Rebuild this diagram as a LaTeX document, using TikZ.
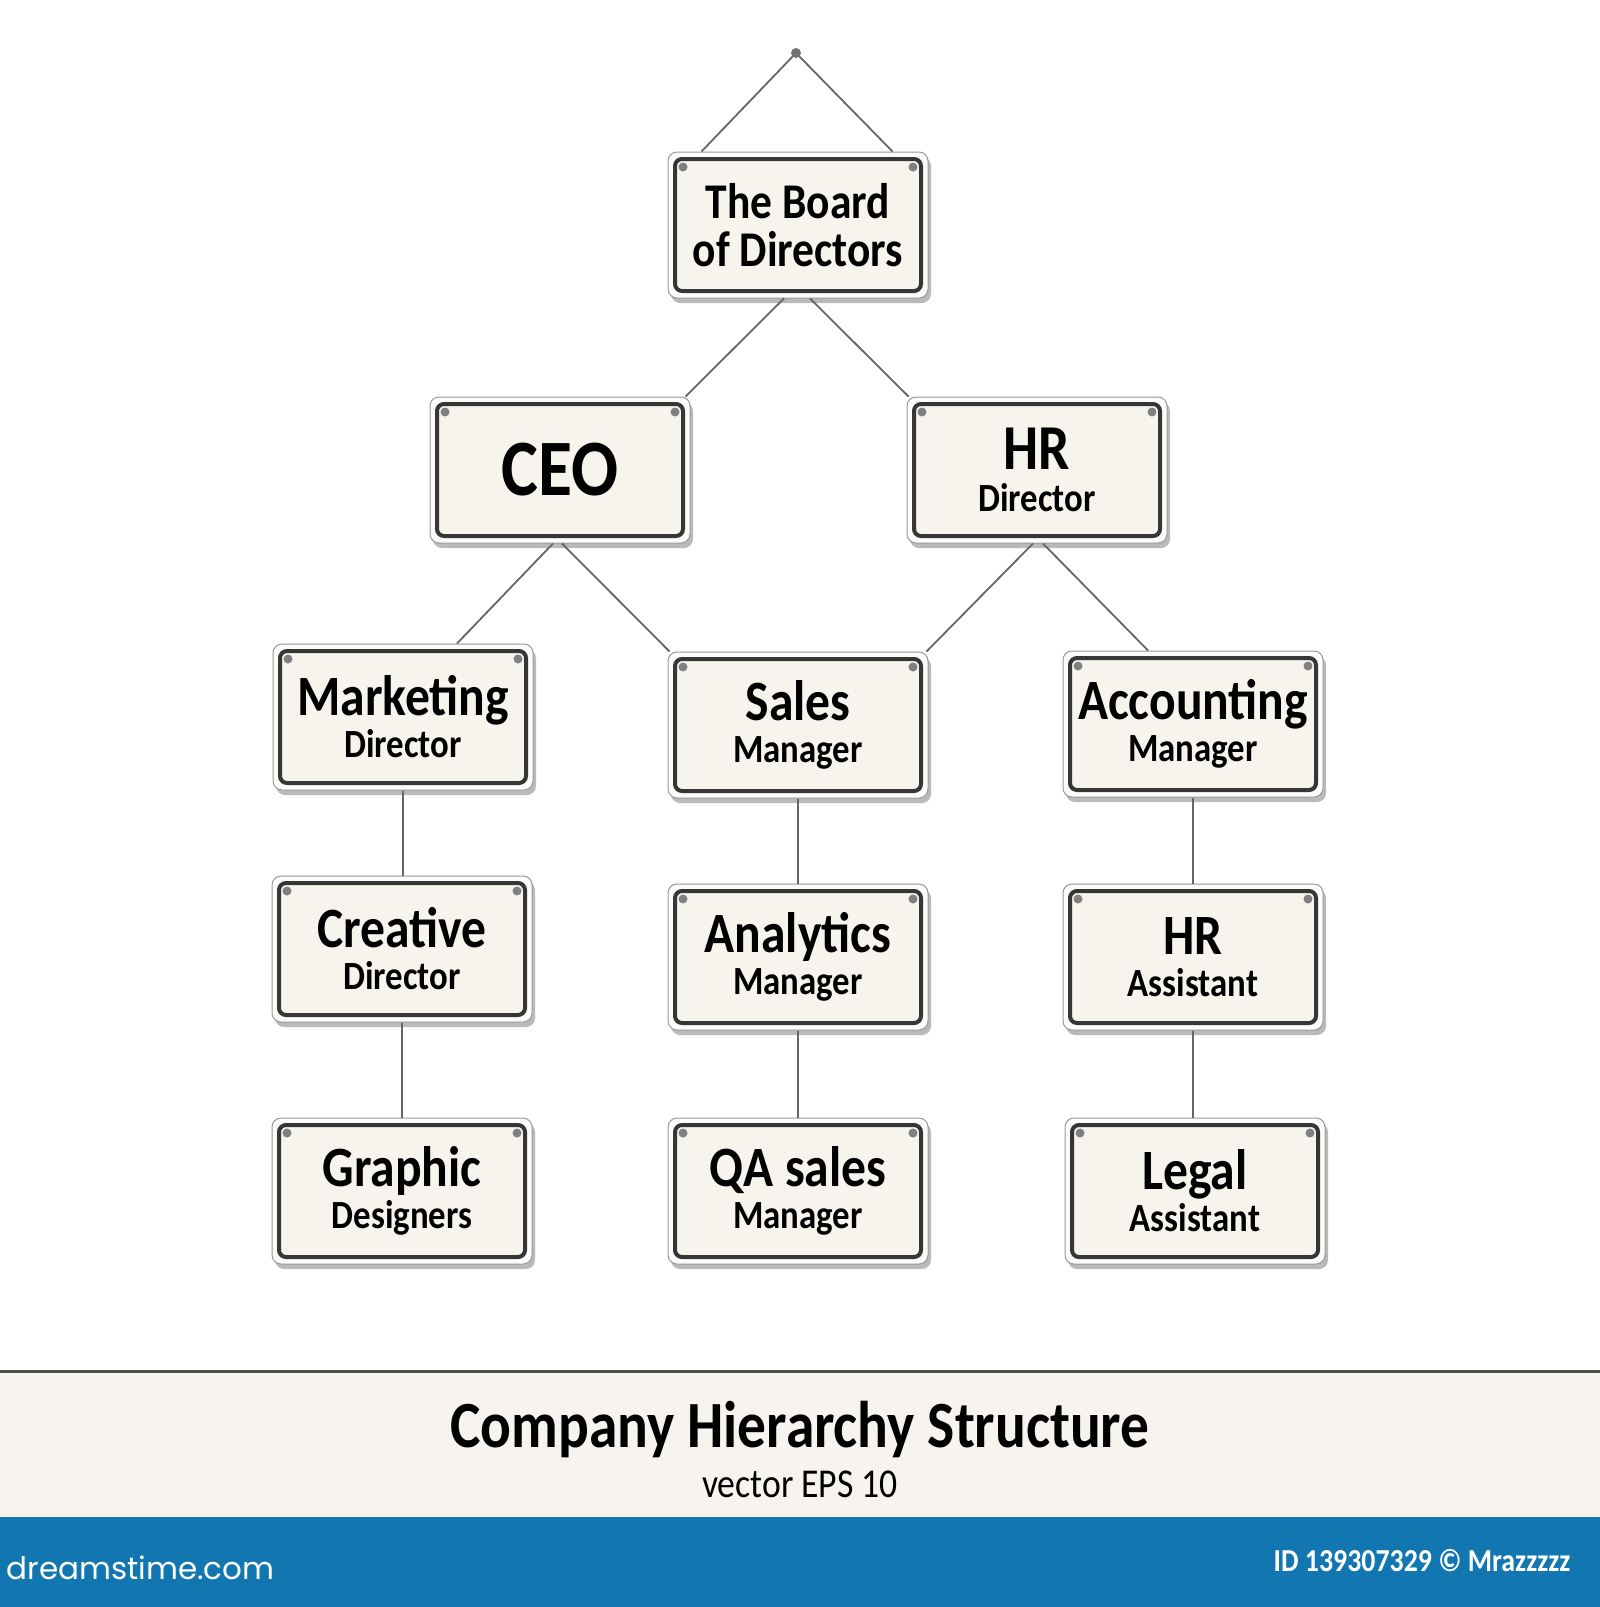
\documentclass[tikz,border=0pt]{standalone}
\usepackage{fontspec}
\setmainfont{Carlito}
\newfontfamily\signfont[FakeStretch=0.87]{Carlito}
\newfontfamily\logofont{Poppins}
\usetikzlibrary{positioning}
\usetikzlibrary{shadows}

\definecolor{plate}{HTML}{FDFCFA}
\definecolor{face}{HTML}{F7F4EE}
\definecolor{rim}{HTML}{363636}
\definecolor{band}{HTML}{F7F4EF}
\definecolor{stockblue}{HTML}{1277B0}

\tikzset{
  sign/.style={rectangle, rounded corners=9pt, draw=black!40, line width=1pt, fill=plate,
    minimum width=260pt, minimum height=146pt, inner sep=0pt, align=center,
    font=\signfont\bfseries\fontsize{40}{42}\selectfont,
    drop shadow={shadow xshift=3pt, shadow yshift=-5pt, opacity=.45, fill=black!60},
    path picture={
      \draw[line width=4pt, draw=rim, fill=face, rounded corners=7pt]
        ([shift={(7pt,-7pt)}]path picture bounding box.north west) rectangle
        ([shift={(-7pt,7pt)}]path picture bounding box.south east);
      \fill[black!50] ([shift={(15pt,-15pt)}]path picture bounding box.north west) circle (4.5pt);
      \fill[black!50] ([shift={(-15pt,-15pt)}]path picture bounding box.north east) circle (4.5pt);
    }},
  wire/.style={draw=black!60, line width=1.8pt},
}
\newcommand{\role}[2]{{\fontsize{57}{42}\selectfont #1}\\#2}

\begin{document}
\begin{tikzpicture}[x=1pt,y=-1pt]
\useasboundingbox (0,0) rectangle (1600,1607);
\fill[white] (0,0) rectangle (1600,1607);

% signs
\node[sign, font=\signfont\bfseries\fontsize{50}{48}\selectfont] (board) at (798,225) {The Board\\of Directors};
\node[sign, font=\signfont\bfseries\fontsize{80}{80}\selectfont] (ceo) at (560,470) {CEO};
\node[sign] (hrd) at (1037,470) {{\fontsize{64}{42}\selectfont HR}\\Director};

\node[sign] (mkt) at (403,717) {\role{Marketing}{Director}};
\node[sign] (sales) at (798,725) {\role{Sales}{Manager}};
\node[sign] (acc) at (1193,724) {\role{Accounting}{Manager}};

\node[sign] (cre) at (402,949) {\role{Creative}{Director}};
\node[sign] (ana) at (798,957) {\role{Analytics}{Manager}};
\node[sign] (hra) at (1193,957) {\role{HR}{Assistant}};

\node[sign] (gra) at (402,1191) {\role{Graphic}{Designers}};
\node[sign] (qa) at (798,1191) {\role{QA sales}{Manager}};
\node[sign] (leg) at (1195,1191) {\role{Legal}{Assistant}};

% hanger and wires
\coordinate (hook) at (796,53);
\draw[wire] ([xshift=34pt]board.north west) -- (hook) -- ([xshift=-36pt]board.north east);
\fill[black!55] (hook) circle (5pt);

\draw[wire] ([xshift=-14pt]board.south) -- ([xshift=-5pt]ceo.north east);
\draw[wire] ([xshift=12pt]board.south) -- ([xshift=2pt]hrd.north west);
\draw[wire] ([xshift=-7pt]ceo.south) -- ([xshift=54pt]mkt.north);
\draw[wire] ([xshift=2pt]ceo.south) -- ([xshift=2pt]sales.north west);
\draw[wire] ([xshift=-4pt]hrd.south) -- ([xshift=-2pt]sales.north east);
\draw[wire] ([xshift=6pt]hrd.south) -- ([xshift=-45pt]acc.north);
\foreach \a/\b in {mkt/cre,cre/gra,sales/ana,ana/qa,acc/hra,hra/leg}
  \draw[wire] (\a.south) -- (\a.south |- \b.north);

% caption band
\fill[band] (0,1373) rectangle (1600,1517);
\draw[black!70, line width=3pt] (0,1371) -- (1600,1371);
\fill[stockblue] (0,1517) rectangle (1600,1607);

\node[anchor=base, font=\signfont\bfseries\fontsize{66}{66}\selectfont] (title) at (800,1447) {Company Hierarchy Structure};
\node[anchor=base, font=\signfont\fontsize{41}{41}\selectfont] (sub) at (800,1497) {vector EPS 10};
\node[anchor=base west, text=white, font=\logofont\fontsize{31}{31}\selectfont] (logo) at (3,1579) {dreamstime.com};
\node[anchor=base east, text=white, font=\signfont\bfseries\fontsize{32}{32}\selectfont] (stockid) at (1574,1571) {ID 139307329 © Mrazzzzz};
\end{tikzpicture}
\end{document}
